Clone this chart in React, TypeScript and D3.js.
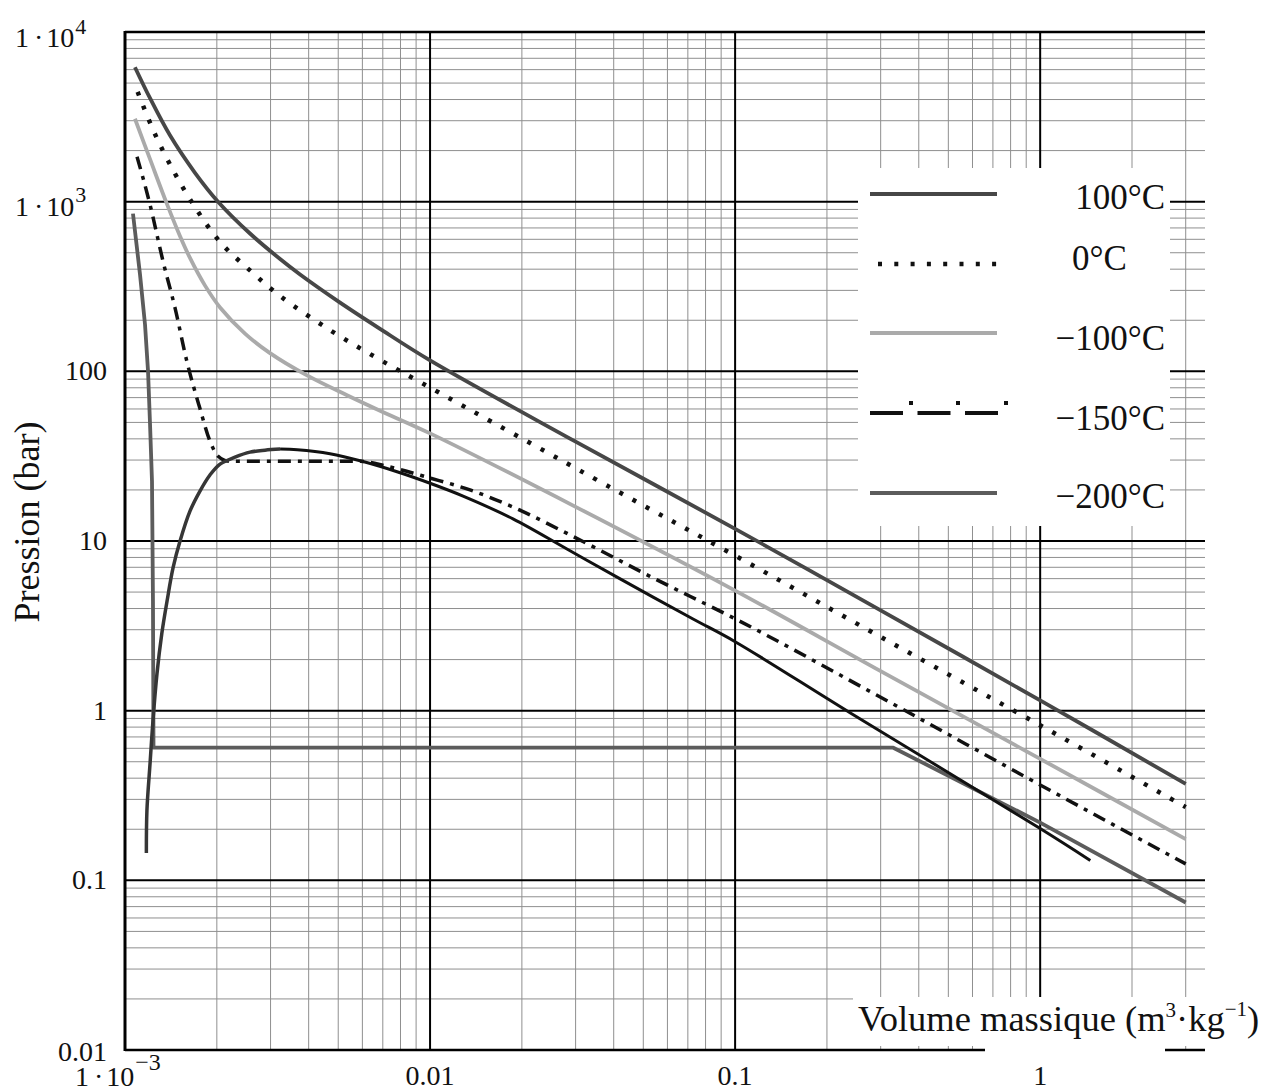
import React from "react";
import * as d3 from "d3";

const W = 1268;
const H = 1091;

// isothermes de l'azote : volume massique (m3/kg) / pression (bar)
const v100 = [1.078e-3, 1.208e-3, 1.404e-3, 1.696e-3, 2.018e-3, 2.569e-3, 3.224e-3, 3.749e-3, 5.07e-3, 6.855e-3, 0.01, 0.03, 0.1, 0.3, 1, 3];
const p100 = [6200, 4070, 2460, 1480, 1000, 649, 459, 372, 254, 178, 116, 38.5, 11.8, 3.9, 1.15, 0.37];

const v0 = [1.1e-3, 1.235e-3, 1.404e-3, 1.658e-3, 2.049e-3, 2.608e-3, 3.224e-3, 4.699e-3, 6.855e-3, 0.01, 0.04, 0.1, 0.3, 1, 3];
const p0 = [4440, 2660, 1660, 990, 579, 384, 278, 175, 117, 80.2, 20.2, 8.2, 2.72, 0.82, 0.27];

const vm100 = [1.078e-3, 1.208e-3, 1.373e-3, 1.514e-3, 1.633e-3, 1.83e-3, 2.049e-3, 2.474e-3, 2.988e-3, 3.951e-3, 5.343e-3, 6.855e-3, 0.01, 0.03, 0.1, 0.3, 1, 3];
const pm100 = [3080, 1780, 967, 628, 466, 320, 238, 167, 128, 94.6, 72.3, 58.6, 43.1, 15.9, 5.1, 1.71, 0.52, 0.175];

const vm150 = [1.095e-3, 1.208e-3, 1.333e-3, 1.46e-3, 1.596e-3, 1.76e-3, 1.9e-3, 2.02e-3, 2.2e-3, 4e-3, 5.9e-3, 7.2e-3, 0.01, 0.01352, 0.0187, 0.02943, 0.0526, 0.1, 0.3, 1, 3];
const pm150 = [1840, 960, 444, 235, 114, 60.5, 38.7, 31.6, 29.5, 29.5, 29.5, 27.6, 23.5, 20.0, 15.85, 10.64, 6.19, 3.48, 1.2, 0.365, 0.125];

const vm200 = [1.062e-3, 1.12e-3, 1.163e-3, 1.19e-3, 1.208e-3, 1.226e-3, 1.235e-3, 1.24e-3, 0.33, 1, 3];
const pm200 = [850, 372, 189, 100, 48.8, 22.5, 4.4, 0.605, 0.605, 0.219, 0.074];

// courbe de saturation (branche liquide puis branche vapeur)
const vSatL = [1.175e-3, 1.18e-3, 1.208e-3, 1.235e-3, 1.273e-3, 1.32e-3, 1.374e-3, 1.437e-3, 1.515e-3, 1.633e-3, 1.761e-3, 1.899e-3, 2.049e-3, 2.294e-3, 2.569e-3, 2.877e-3, 3.224e-3];
const pSatL = [0.145, 0.258, 0.487, 0.873, 1.65, 2.84, 4.44, 6.94, 10, 15.0, 19.7, 24.5, 28.4, 31.2, 33.4, 34.3, 34.8];
const vSatV = [3.224e-3, 3.67e-3, 4.699e-3, 6.03e-3, 7.795e-3, 0.01, 0.01283, 0.0187, 0.0281, 0.042, 0.0728, 0.1, 0.238, 1, 1.46];
const pSatV = [34.8, 34.5, 32.7, 29.4, 25.6, 21.9, 18.4, 13.5, 8.97, 5.98, 3.47, 2.55, 0.973, 0.202, 0.131];

const xTicks = [0.001, 0.01, 0.1, 1];
const xTickLabels = ["", "0.01", "0.1", "1"];
const yTicks = [0.01, 0.1, 1, 10, 100, 1000, 10000];
const yTickLabels = ["0.01", "0.1", "1", "10", "100", "", ""];

const legendLabels = ["100°C", "0°C", "\u2212100°C", "\u2212150°C", "\u2212200°C"];

const font = "'Liberation Serif', 'Times New Roman', serif";

const zip = (v, p) => v.map((d, i) => [d, p[i]]);

export default function App() {
  const x = d3.scaleLog().domain([1e-3, 3.47]).range([125, 1205]);
  const y = d3.scaleLog().domain([0.01, 1e4]).range([1050, 32]);

  const lineM = d3.line().x(d => x(d[0])).y(d => y(d[1])).curve(d3.curveMonotoneX);
  const lineL = d3.line().x(d => x(d[0])).y(d => y(d[1]));
  const lineC = d3.line().x(d => x(d[0])).y(d => y(d[1])).curve(d3.curveCatmullRom.alpha(0.5));

  const [x0, x1] = x.range();
  const [yb, yt] = y.range();

  // lignes de grille secondaires 2..9 de chaque décade
  const minorX = [];
  for (let e = -3; e <= 0; e++) for (let k = 2; k <= 9; k++) {
    const v = k * Math.pow(10, e);
    if (v < 3.47) minorX.push(v);
  }
  const minorY = [];
  for (let e = -2; e <= 3; e++) for (let k = 2; k <= 9; k++) minorY.push(k * Math.pow(10, e));

  const series = [
    { d: lineC(zip(v100, p100)), stroke: "#474747", w: 3.8, dash: null },
    { d: lineC(zip(v0, p0)), stroke: "#111", w: 4.5, dash: "4 11" },
    { d: lineC(zip(vm100, pm100)), stroke: "#aaaaaa", w: 3.8, dash: null },
    { d: lineM(zip(vm150, pm150)), stroke: "#111", w: 3.5, dash: "13 7 4 7" },
    { d: lineL(zip(vm200, pm200)), stroke: "#5c5c5c", w: 3.8, dash: null },
    { d: lineC(zip(vSatL, pSatL)), stroke: "#363636", w: 3.5, dash: null },
    { d: lineC(zip(vSatV, pSatV)), stroke: "#111", w: 3, dash: null },
  ];

  const legendRows = [
    { y: 194, ty: 209, stroke: "#474747" },
    { y: 264, ty: 270, stroke: "#111" },
    { y: 333, ty: 350, stroke: "#aaaaaa" },
    { y: 413, ty: 430, stroke: "#111" },
    { y: 493, ty: 508, stroke: "#5c5c5c" },
  ];

  return (
    <svg width={W} height={H} style={{ position: "absolute", left: 0, top: 0, display: "block", background: "#fff" }} fontFamily={font}>
      <rect width={W} height={H} fill="#fff" />
      <defs>
        <clipPath id="plot">
          <rect x={x0} y={yt} width={x1 - x0} height={yb - yt} />
        </clipPath>
      </defs>

      {/* grille */}
      <g stroke="#8f8f8f" strokeWidth={1}>
        {minorX.map(v => <line key={"mx" + v} x1={x(v)} x2={x(v)} y1={yt} y2={yb} />)}
        {minorY.map(v => <line key={"my" + v} x1={x0} x2={x1} y1={y(v)} y2={y(v)} />)}
      </g>
      <g stroke="#000" strokeWidth={2}>
        {xTicks.slice(1).map(v => <line key={"gx" + v} x1={x(v)} x2={x(v)} y1={yt} y2={yb} />)}
        {yTicks.slice(1, -1).map(v => <line key={"gy" + v} x1={x0} x2={x1} y1={y(v)} y2={y(v)} />)}
      </g>

      {/* courbes */}
      <g clipPath="url(#plot)" fill="none">
        {series.map((s, i) => (
          <path key={i} d={s.d} stroke={s.stroke} strokeWidth={s.w} strokeDasharray={s.dash || undefined} strokeLinejoin="round" />
        ))}
      </g>

      {/* légende */}
      <rect x={858} y={168} width={312} height={358} fill="#fff" />
      {legendRows.map((r, i) => (
        <g key={i}>
          {i === 1 ? (
            <line x1={878} x2={1000} y1={r.y} y2={r.y} stroke={r.stroke} strokeWidth={4.5} strokeDasharray="4 12.3" />
          ) : i === 3 ? (
            <g>
              <line x1={870} x2={998} y1={r.y} y2={r.y} stroke={r.stroke} strokeWidth={4} strokeDasharray="33 14.5" />
              {[909, 956, 1004].map(dx => <rect key={dx} x={dx} y={r.y - 12} width={4} height={4} fill="#111" />)}
            </g>
          ) : (
            <line x1={870} x2={997} y1={r.y} y2={r.y} stroke={r.stroke} strokeWidth={4} />
          )}
          <text x={i === 1 ? 1072 : 1165} y={r.ty} fontSize={35} textAnchor={i === 1 ? "start" : "end"} fill="#111">
            {legendLabels[i]}
          </text>
        </g>
      ))}

      {/* titre de l'axe x dans son cadre blanc */}
      <rect x={853} y={997} width={415} height={49} fill="#fff" />
      <line x1={x0} x2={x1} y1={yb} y2={yb} stroke="#000" strokeWidth={2.5} />
      <rect x={985} y={1046} width={180} height={7} fill="#fff" />
      <text x={858} y={1031} fontSize={36.5} fill="#111">
        Volume massique (m<tspan dy={-14} fontSize={21}>3</tspan><tspan dy={14}>·kg</tspan>
        <tspan dy={-15} fontSize={21}>{"\u22121"}</tspan><tspan dy={15}>)</tspan>
      </text>

      {/* cadre */}
      <line x1={x0} x2={x1} y1={yt} y2={yt} stroke="#000" strokeWidth={2.5} />
      <line x1={x0} x2={x0} y1={yt - 1} y2={yb + 1} stroke="#000" strokeWidth={3} />

      {/* graduations y */}
      <g fontSize={28} fill="#111">
        {yTicks.map((t, i) =>
          yTickLabels[i] ? (
            <text key={t} x={107} y={y(t) + (t === 0.01 ? 11 : 9)} textAnchor="end">{yTickLabels[i]}</text>
          ) : null
        )}
        <text x={15} y={y(1000) + 14}>
          1<tspan dx={5}>·</tspan><tspan dx={3}>10</tspan><tspan dx={1} dy={-14} fontSize={22}>3</tspan>
        </text>
        <text x={15} y={y(10000) + 15}>
          1<tspan dx={5}>·</tspan><tspan dx={3}>10</tspan><tspan dx={1} dy={-13} fontSize={22}>4</tspan>
        </text>
      </g>

      {/* graduations x */}
      <g fontSize={28} fill="#111">
        {xTicks.map((t, i) =>
          xTickLabels[i] ? (
            <text key={t} x={x(t)} y={1085} textAnchor="middle">{xTickLabels[i]}</text>
          ) : null
        )}
        <text x={75} y={1086}>
          1<tspan dx={5}>·</tspan><tspan dx={3}>10</tspan><tspan dx={1} dy={-16} fontSize={24}>{"\u22123"}</tspan>
        </text>
      </g>

      <text transform="translate(39,522) rotate(-90)" textAnchor="middle" fontSize={36} fill="#111">
        Pression (bar)
      </text>
    </svg>
  );
}
